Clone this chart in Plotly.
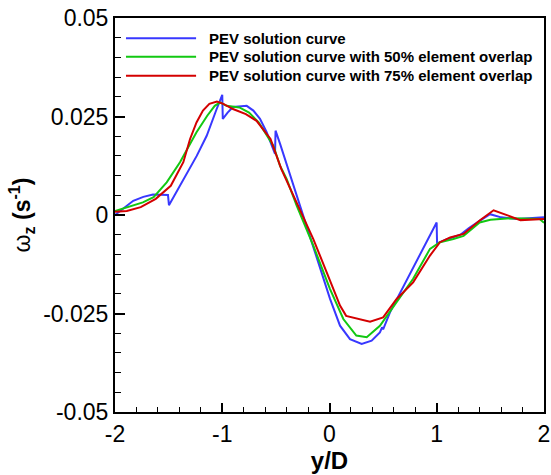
import plotly.graph_objects as go

# ---- data ----
blue_x = [-2.0, -1.9, -1.83, -1.736, -1.646, -1.506, -1.497, -1.238, -1.145, -1.052, -1.0,
          -0.995, -0.95, -0.90, -0.82, -0.772, -0.71, -0.648, -0.586, -0.508, -0.503,
          -0.46, 0.005, 0.098, 0.191, 0.30, 0.393, 0.47, 0.49, 0.50, 0.564, 0.999,
          1.003, 1.09, 1.22, 1.30, 1.40, 1.497, 1.60, 1.75, 2.0]
blue_y = [0.0000, 0.0020, 0.0036, 0.0046, 0.0052, 0.0051, 0.0025, 0.0150, 0.0201, 0.0269, 0.0305,
          0.0244, 0.0260, 0.0274, 0.0277, 0.0277, 0.0265, 0.0244, 0.0210, 0.0155, 0.0214,
          0.0180, -0.0213, -0.0281, -0.0315, -0.0327, -0.0319, -0.0298, -0.0285, -0.0290, -0.0247, -0.0019,
          -0.0072, -0.0062, -0.0050, -0.0033, -0.0015, 0.0002, -0.0006, -0.0010, -0.0006]

green_x = [-2.0, -1.86, -1.74, -1.64, -1.518, -1.394, -1.363, -1.24, -1.14, -1.07, -1.02,
           -0.96, -0.84, -0.75, -0.66, -0.524, -0.461, -0.399, -0.306, -0.151, 0.005, 0.129,
           0.25, 0.347, 0.47, 0.626, 0.78, 0.937, 1.03, 1.155, 1.25, 1.40, 1.50, 1.71, 1.96, 2.0]
green_y = [0.0010, 0.0022, 0.0032, 0.0045, 0.0083, 0.0134, 0.0150, 0.0210, 0.0252, 0.0277, 0.0286,
           0.0277, 0.0273, 0.0260, 0.0235, 0.0176, 0.0125, 0.0091, 0.0024, -0.0078, -0.0188, -0.0264,
           -0.0306, -0.0310, -0.0281, -0.0222, -0.0162, -0.0086, -0.0069, -0.0061, -0.0053, -0.0019,
           -0.0012, -0.0008, -0.0010, -0.0020]

red_x = [-2.0, -1.89, -1.76, -1.62, -1.48, -1.363, -1.30, -1.24, -1.18, -1.12, -1.05,
         -0.99, -0.90, -0.78, -0.68, -0.55, -0.45, -0.306, -0.151, -0.027, 0.098, 0.155,
         0.25, 0.378, 0.50, 0.626, 0.78, 0.937, 1.03, 1.125, 1.25, 1.40, 1.53, 1.62, 1.78, 2.0]
red_y = [0.0008, 0.0010, 0.0020, 0.0041, 0.0074, 0.0134, 0.0193, 0.0235, 0.0265, 0.0282, 0.0288,
         0.0282, 0.0269, 0.0256, 0.0239, 0.0193, 0.0117, 0.0032, -0.0061, -0.0145, -0.0230, -0.0256,
         -0.0262, -0.0271, -0.0260, -0.0213, -0.0171, -0.0103, -0.0069, -0.0057, -0.0048, -0.0014,
         0.0012, 0.0003, -0.0013, -0.0010]

series_names = ["PEV solution curve",
                "PEV solution curve with 50% element overlap",
                "PEV solution curve with 75% element overlap"]
series_colors = ["#3838ff", "#12c812", "#d40000"]

x_tickvals = [-2, -1, 0, 1, 2]
x_ticktext = ["-2", "-1", "0", "1", "2"]
y_tickvals = [0.05, 0.025, 0, -0.025, -0.05]
y_ticktext = ["0.05", "0.025", "0", "-0.025", "-0.05"]

FONT = "Liberation Sans, Arial, Helvetica, sans-serif"

fig = go.Figure()
for xs, ys, name, color in zip([blue_x, green_x, red_x], [blue_y, green_y, red_y],
                               series_names, series_colors):
    fig.add_trace(go.Scatter(x=xs, y=ys, mode="lines", name=name, showlegend=False,
                             line=dict(color=color, width=2)))

# legend drawn as line samples + text (matches the long sample lines of the original)
leg_rows_y = [0.9485, 0.9018, 0.8536]
for name, color, ry in zip(series_names, series_colors, leg_rows_y):
    fig.add_shape(type="line", xref="paper", yref="paper", x0=0.0256, x1=0.189, y0=ry, y1=ry,
                  line=dict(color=color, width=2))
    fig.add_annotation(xref="paper", yref="paper", x=0.2145, y=ry, xanchor="left", yanchor="middle",
                       text="<b>" + name + "</b>", showarrow=False,
                       font=dict(family=FONT, size=15, color="black"))

axis_common = dict(showline=True, linecolor="black", linewidth=2, mirror=True,
                   ticks="inside", tickcolor="black", tickwidth=1.5,
                   showgrid=False, zeroline=False,
                   tickfont=dict(family=FONT, size=23, color="black"))

fig.update_xaxes(range=[-2, 2], tickvals=x_tickvals, ticktext=x_ticktext, ticklen=9,
                 minor=dict(dtick=0.2, ticks="inside", ticklen=5, tickcolor="black", tickwidth=1.2),
                 title=dict(text="<b>y/D</b>", font=dict(family=FONT, size=24, color="black"), standoff=0),
                 **axis_common)
fig.update_yaxes(range=[-0.05, 0.05], tickvals=y_tickvals, ticktext=y_ticktext, ticklen=10,
                 minor=dict(dtick=0.005, ticks="inside", ticklen=6, tickcolor="black", tickwidth=1.2),
                 title=dict(text="ω<b><sub>z</sub> (s<sup>-1</sup>)</b>",
                            font=dict(family=FONT, size=23, color="black"), standoff=6),
                 **axis_common)

fig.update_layout(
    width=551, height=475,
    margin=dict(l=115, r=7, t=18, b=63, autoexpand=False),
    paper_bgcolor="white", plot_bgcolor="white",
    showlegend=False,
)

fig.write_html("out.html", config={"displayModeBar": False},
               post_script="document.body.style.margin='0';document.body.style.overflow='hidden';")
